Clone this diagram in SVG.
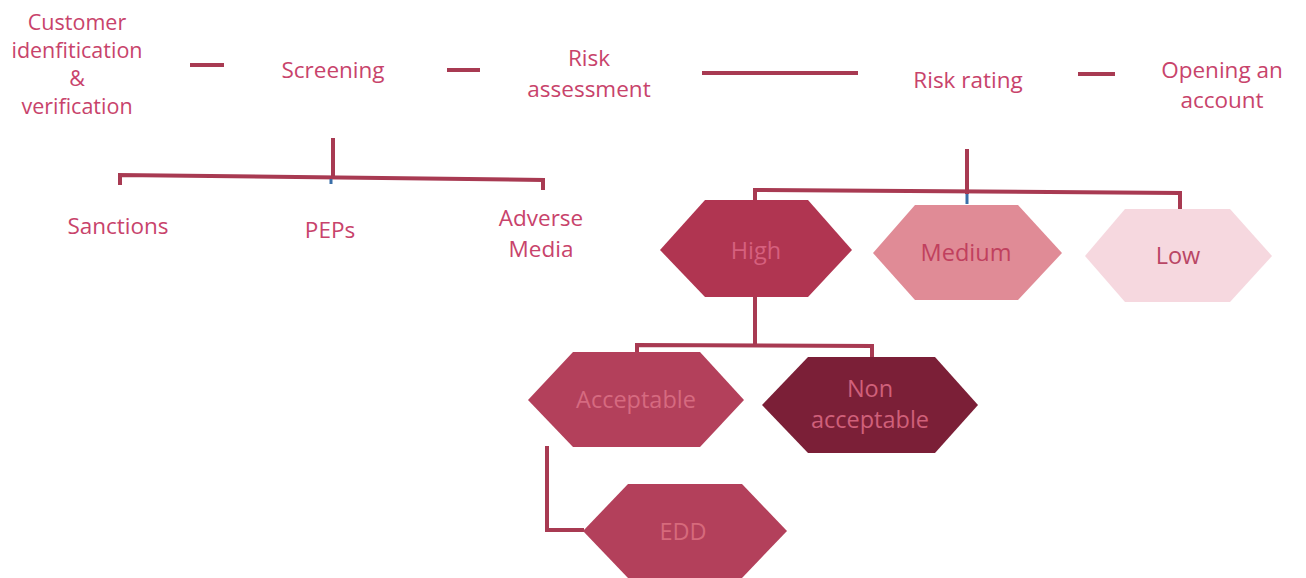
<svg xmlns="http://www.w3.org/2000/svg" width="1306" height="578" viewBox="0 0 1306 578">
  <style>
    .lbl { font-family: "Open Sans", "Liberation Sans", sans-serif; font-size: 22.5px; fill: #c8436b; text-anchor: middle; }
    .lbl-sm { font-size: 21.5px; }
    .hex-txt { font-family: "Open Sans", "Liberation Sans", sans-serif; font-size: 23.5px; text-anchor: middle; }
    .wire { fill: none; stroke: #a83a52; stroke-width: 4; stroke-linecap: square; }
    .tick { stroke: #3a6fa8; stroke-width: 3; }
  </style>

  <rect width="1306" height="578" fill="#ffffff"/>

  <!-- connectors -->
  <g id="connectors">
    <!-- process flow dashes -->
    <line class="wire" x1="192" y1="65" x2="222" y2="65"/>
    <line class="wire" x1="449" y1="70" x2="478" y2="70"/>
    <line class="wire" x1="704" y1="73" x2="856" y2="73"/>
    <line class="wire" x1="1080" y1="74" x2="1113" y2="74"/>
    <!-- screening branches -->
    <line class="wire" x1="333" y1="140" x2="333" y2="177"/>
    <polyline class="wire" points="120,183 120,175 543,180 543,188"/>
    <line class="tick" x1="331" y1="179" x2="331" y2="184"/>
    <!-- risk rating branches -->
    <line class="wire" x1="967" y1="151" x2="967" y2="192"/>
    <polyline class="wire" points="755,205 755,190 1180,193 1180,208"/>
    <line class="tick" x1="967" y1="194" x2="967" y2="204"/>
    <!-- high branches -->
    <line class="wire" x1="755" y1="297" x2="755" y2="345"/>
    <polyline class="wire" points="637,352 637,345 872,346 872,356"/>
    <!-- acceptable to EDD -->
    <polyline class="wire" points="547,448 547,530 582,530"/>
  </g>

  <!-- top process row -->
  <g id="customer-id">
    <text class="lbl lbl-sm" x="77" y="30">Customer</text>
    <text class="lbl lbl-sm" x="77" y="58">idenfitication</text>
    <text class="lbl lbl-sm" x="77" y="86">&amp;</text>
    <text class="lbl lbl-sm" x="77" y="114">verification</text>
  </g>
  <g id="screening">
    <text class="lbl" x="333" y="78">Screening</text>
  </g>
  <g id="risk-assessment">
    <text class="lbl" x="589" y="66">Risk</text>
    <text class="lbl" x="589" y="97">assessment</text>
  </g>
  <g id="risk-rating">
    <text class="lbl" x="968" y="88">Risk rating</text>
  </g>
  <g id="opening-account">
    <text class="lbl" x="1222" y="78">Opening an</text>
    <text class="lbl" x="1222" y="108">account</text>
  </g>

  <!-- screening checks -->
  <g id="sanctions">
    <text class="lbl" x="118" y="234">Sanctions</text>
  </g>
  <g id="peps">
    <text class="lbl" x="330" y="238">PEPs</text>
  </g>
  <g id="adverse-media">
    <text class="lbl" x="541" y="226">Adverse</text>
    <text class="lbl" x="541" y="257">Media</text>
  </g>

  <!-- risk levels -->
  <g id="high">
    <polygon points="660,250 705,200 808,200 852,250 808,297 705,297" fill="#b03551"/>
    <text class="hex-txt" x="756" y="259" fill="#d6607e">High</text>
  </g>
  <g id="medium">
    <polygon points="873,253 915,205 1018,205 1062,253 1018,300 915,300" fill="#e08b96"/>
    <text class="hex-txt" x="966" y="261" fill="#c0405e">Medium</text>
  </g>
  <g id="low">
    <polygon points="1085,256 1125,209 1230,209 1272,256 1230,302 1125,302" fill="#f6d8df"/>
    <text class="hex-txt" x="1178" y="264" fill="#b94665">Low</text>
  </g>

  <!-- high risk outcomes -->
  <g id="acceptable">
    <polygon points="528,400 573,352 700,352 744,400 700,447 573,447" fill="#b3405b"/>
    <text class="hex-txt" x="636" y="408" fill="#d66a80">Acceptable</text>
  </g>
  <g id="non-acceptable">
    <polygon points="762,405 808,357 935,357 978,405 935,453 808,453" fill="#7b1f37"/>
    <text class="hex-txt" x="870" y="397" fill="#d0607a">Non</text>
    <text class="hex-txt" x="870" y="428" fill="#d0607a">acceptable</text>
  </g>
  <g id="edd">
    <polygon points="583,531 628,484 742,484 787,531 742,578 628,578" fill="#b3405b"/>
    <text class="hex-txt" x="683" y="540" fill="#d66a7c">EDD</text>
  </g>
</svg>
